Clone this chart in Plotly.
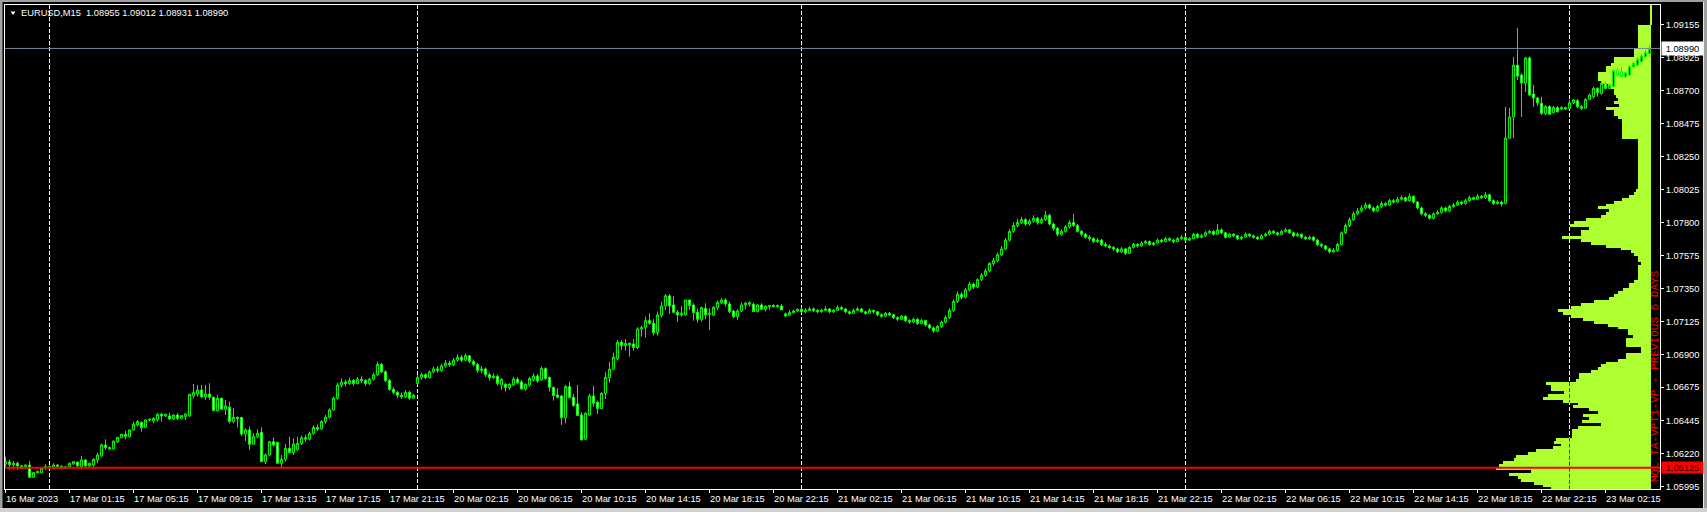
import plotly.graph_objects as go

# ---------------- data (prices in points, 1 point = 0.00001) ----------------
open_pts = [
106150,106164,106146,106155,106137,106121,106143,106059,106091,106091,
106121,106132,106127,106143,106135,106121,106132,106150,106162,106132,
106178,106137,106143,106178,106205,106280,106262,106253,106301,106330,
106353,106337,106383,106417,106435,106401,106451,106444,106451,106490,
106478,106478,106458,106485,106462,106474,106478,106615,106629,106656,
106610,106629,106606,106515,106599,106524,106538,106440,106469,106469,
106355,106383,106285,106337,106367,106166,106212,106303,106298,106155,
106182,106257,106228,106250,106291,106330,106320,106360,106400,106390,
106440,106470,106520,106600,106690,106710,106700,106720,106700,106730,
106720,106700,106730,106760,106830,106780,106720,106660,106640,106620,
106610,106640,106600,106700,106740,106760,106740,106780,106800,106790,
106820,106840,106830,106860,106880,106860,106890,106850,106830,106790,
106800,106760,106740,106750,106690,106695,106672,106690,106729,106711,
106663,106690,106725,106752,106725,106802,106741,106674,106622,106615,
106467,106679,106606,106561,106485,106319,106485,106615,106572,106529,
106633,106741,106798,106870,106982,106959,106975,106971,106946,107073,
107085,107130,107112,107048,107166,107230,107299,107237,107187,107169,
107169,107271,107237,107187,107139,107214,107173,107169,107219,107253,
107271,107244,107196,107157,107196,107237,107242,107242,107192,107237,
107208,107226,107233,107226,107230,107176,107166,107185,107196,107208,
107190,107200,107210,107200,107190,107200,107210,107190,107200,107220,
107210,107190,107180,107200,107210,107190,107180,107200,107190,107170,
107160,107180,107170,107150,107140,107160,107130,107120,107140,107110,
107130,107100,107080,107060,107090,107120,107150,107200,107260,107310,
107290,107340,107380,107360,107410,107440,107470,107520,107540,107580,
107620,107680,107740,107780,107800,107820,107790,107810,107830,107800,
107820,107850,107790,107760,107720,107740,107770,107800,107780,107740,
107720,107700,107690,107670,107680,107650,107640,107630,107620,107600,
107620,107590,107630,107650,107640,107660,107670,107650,107660,107680,
107670,107690,107680,107670,107690,107700,107680,107690,107720,107700,
107710,107730,107740,107720,107750,107730,107700,107720,107710,107690,
107700,107720,107710,107700,107690,107710,107720,107740,107730,107720,
107740,107750,107730,107710,107720,107700,107690,107700,107680,107650,
107640,107620,107600,107610,107650,107730,107780,107820,107860,107880,
107900,107920,107900,107880,107910,107930,107920,107950,107940,107960,
107970,107950,107980,107940,107900,107860,107850,107830,107860,107870,
107900,107880,107910,107920,107940,107930,107950,107970,107960,107980,
107970,107990,107950,107930,107940,107931,108377,108521,108876,108808,
108754,108925,108679,108651,108615,108546,108592,108551,108585,108576,
108585,108581,108619,108633,108592,108581,108642,108660,108717,108683,
108751,108717,108729,108838,108831,108797,108808,108865,108877,108900,
108934,108955]

high_pts = [
106200,106178,106171,106166,106143,106148,106171,106095,106105,106125,
106148,106140,106155,106150,106140,106138,106160,106171,106168,106205,
106182,106160,106189,106228,106291,106319,106270,106310,106335,106356,
106376,106385,106440,106451,106440,106455,106460,106469,106497,106501,
106495,106501,106490,106497,106485,106497,106630,106697,106690,106690,
106690,106702,106610,106622,106605,106588,106576,106531,106474,106469,
106394,106405,106360,106387,106401,106223,106305,106332,106300,106212,
106287,106337,106326,106337,106345,106350,106372,106415,106420,106450,
106485,106530,106610,106705,106735,106725,106740,106730,106745,106750,
106730,106740,106775,106850,106840,106790,106730,106675,106650,106640,
106655,106650,106630,106760,106775,106770,106790,106815,106820,106835,
106860,106855,106875,106900,106895,106905,106895,106865,106840,106820,
106810,106775,106770,106760,106736,106702,106702,106747,106743,106725,
106702,106747,106770,106766,106816,106811,106747,106679,106668,106622,
106690,106713,106629,106690,106504,106504,106629,106684,106583,106640,
106777,106850,106911,106998,106998,107003,106980,107003,107085,107094,
107157,107180,107139,107192,107260,107312,107312,107299,107203,107230,
107271,107271,107249,107214,107226,107249,107214,107230,107267,107283,
107283,107260,107203,107208,107253,107258,107260,107253,107242,107249,
107230,107237,107242,107240,107242,107185,107203,107203,107212,107220,
107215,107225,107220,107210,107212,107230,107215,107210,107235,107228,
107215,107200,107210,107222,107215,107198,107212,107205,107195,107180,
107190,107188,107175,107160,107170,107165,107140,107150,107145,107142,
107135,107110,107090,107100,107130,107165,107215,107275,107330,107325,
107355,107395,107390,107420,107455,107485,107530,107560,107595,107640,
107695,107755,107800,107825,107840,107830,107825,107850,107840,107835,
107880,107860,107800,107770,107755,107785,107815,107860,107790,107750,
107730,107715,107700,107695,107688,107665,107650,107640,107630,107632,
107625,107640,107662,107660,107672,107682,107678,107670,107692,107688,
107700,107698,107690,107702,107715,107708,107700,107730,107728,107722,
107742,107752,107748,107790,107760,107738,107730,107728,107715,107712,
107732,107728,107718,107708,107720,107732,107752,107750,107738,107752,
107762,107758,107738,107732,107726,107710,107712,107708,107688,107660,
107648,107630,107625,107660,107740,107795,107835,107875,107900,107918,
107938,107930,107910,107922,107945,107940,107962,107960,107975,107985,
107978,108000,107985,107948,107910,107872,107858,107870,107885,107912,
107908,107922,107935,107952,107948,107962,107985,107978,107995,107988,
108010,107998,107958,107952,107950,108590,108583,108931,109130,108822,
108931,108935,108740,108658,108660,108603,108603,108597,108597,108597,
108592,108638,108644,108644,108603,108649,108683,108729,108724,108763,
108763,108751,108847,108854,108865,108831,108877,108900,108929,108950,
108979,109012]

low_pts = [
106132,106110,106114,106110,106114,106114,106055,106055,106085,106087,
106110,106118,106114,106128,106115,106116,106128,106146,106133,106114,
106130,106128,106121,106155,106200,106246,106248,106248,106296,106325,
106319,106332,106378,106405,106371,106395,106440,106428,106440,106440,
106472,106451,106452,106451,106455,106451,106474,106599,106610,106599,
106588,106588,106510,106508,106520,106485,106428,106428,106401,106342,
106307,106246,106280,106326,106166,106150,106205,106269,106155,106121,
106166,106223,106212,106241,106280,106300,106310,106350,106375,106385,
106425,106460,106515,106590,106675,106680,106690,106685,106695,106705,
106685,106690,106720,106750,106770,106710,106650,106625,106600,106595,
106600,106590,106595,106690,106725,106730,106735,106770,106775,106780,
106810,106815,106820,106850,106845,106850,106840,106815,106775,106770,
106745,106720,106730,106685,106656,106645,106656,106684,106697,106656,
106650,106679,106713,106706,106720,106725,106645,106583,106599,106417,
106428,106599,106542,106481,106310,106315,106481,106542,106492,106525,
106595,106706,106793,106861,106930,106925,106884,106925,106936,107021,
107014,107100,107028,107028,107151,107203,107176,107180,107123,107157,
107165,107203,107130,107116,107123,107139,107066,107162,107203,107242,
107226,107180,107148,107134,107189,107208,107226,107189,107185,107203,
107192,107203,107219,107219,107203,107151,107160,107180,107192,107180,
107180,107195,107190,107180,107185,107195,107180,107182,107195,107200,
107180,107170,107175,107195,107182,107170,107175,107178,107160,107150,
107152,107160,107140,107128,107135,107120,107108,107112,107100,107105,
107090,107070,107045,107050,107080,107110,107140,107190,107250,107275,
107280,107330,107345,107350,107400,107430,107460,107505,107530,107570,
107610,107670,107730,107770,107790,107775,107780,107800,107785,107790,
107810,107780,107745,107705,107710,107730,107760,107770,107730,107705,
107690,107675,107660,107660,107640,107630,107620,107605,107590,107592,
107580,107585,107622,107630,107635,107652,107642,107640,107655,107660,
107665,107670,107660,107665,107682,107670,107672,107685,107690,107692,
107702,107722,107712,107715,107720,107690,107695,107700,107680,107682,
107695,107700,107690,107680,107685,107702,107712,107720,107710,107715,
107732,107722,107700,107702,107690,107680,107682,107670,107640,107628,
107608,107590,107592,107602,107645,107720,107770,107810,107850,107870,
107890,107890,107870,107872,107900,107908,107912,107930,107932,107950,
107940,107942,107930,107890,107850,107838,107820,107822,107852,107862,
107870,107872,107902,107912,107920,107922,107942,107950,107952,107960,
107962,107940,107920,107922,107910,107925,108370,108377,108774,108521,
108692,108665,108590,108596,108535,108535,108535,108546,108551,108569,
108569,108574,108610,108581,108569,108576,108638,108649,108660,108672,
108711,108711,108724,108797,108793,108786,108802,108854,108870,108893,
108929,108931]

close_pts = [
106166,106146,106155,106137,106121,106143,106059,106091,106098,106121,
106132,106125,106143,106135,106121,106130,106155,106166,106137,106178,
106137,106155,106182,106212,106280,106262,106255,106307,106332,106353,
106340,106383,106421,106440,106399,106451,106456,106462,106490,106478,
106490,106458,106485,106462,106481,106492,106626,106638,106656,106610,
106629,106606,106515,106599,106524,106547,106440,106469,106462,106355,
106383,106285,106337,106360,106166,106212,106303,106280,106155,106182,
106257,106228,106287,106291,106330,106320,106360,106400,106390,106440,
106470,106520,106600,106690,106710,106700,106720,106700,106730,106720,
106700,106730,106760,106830,106780,106720,106660,106640,106620,106610,
106640,106600,106620,106740,106760,106740,106780,106800,106790,106820,
106840,106830,106860,106880,106860,106890,106850,106830,106790,106800,
106760,106740,106750,106700,106729,106672,106695,106731,106706,106663,
106695,106734,106752,106718,106802,106734,106674,106618,106606,106467,
106679,106604,106549,106481,106315,106497,106615,106565,106529,106633,
106743,106798,106880,106982,106959,106975,106966,106946,107073,107082,
107130,107112,107048,107169,107230,107299,107230,107187,107169,107180,
107271,107233,107185,107139,107219,107169,107180,107221,107255,107271,
107244,107192,107157,107196,107237,107249,107253,107192,107237,107208,
107230,107233,107226,107233,107203,107162,107185,107196,107208,107190,
107200,107210,107200,107190,107200,107210,107190,107200,107220,107210,
107190,107180,107200,107210,107190,107180,107200,107190,107170,107160,
107180,107170,107150,107140,107160,107130,107120,107140,107110,107130,
107100,107080,107060,107090,107120,107150,107200,107260,107310,107290,
107340,107380,107360,107410,107440,107470,107520,107540,107580,107620,
107680,107740,107780,107800,107820,107790,107810,107830,107800,107820,
107850,107790,107760,107720,107740,107770,107800,107780,107740,107720,
107700,107690,107670,107680,107650,107640,107630,107620,107600,107620,
107590,107630,107650,107640,107660,107670,107650,107660,107680,107670,
107690,107680,107670,107690,107700,107680,107690,107720,107700,107710,
107730,107740,107720,107750,107730,107700,107720,107710,107690,107700,
107720,107710,107700,107690,107710,107720,107740,107730,107720,107740,
107750,107730,107710,107720,107700,107690,107700,107680,107650,107640,
107620,107600,107610,107650,107730,107780,107820,107860,107880,107900,
107920,107900,107880,107910,107930,107920,107950,107940,107960,107970,
107950,107980,107940,107900,107860,107850,107830,107860,107870,107900,
107880,107910,107920,107940,107930,107950,107970,107960,107980,107970,
107990,107950,107930,107940,107927,108377,108521,108876,108801,108754,
108925,108672,108651,108617,108546,108592,108540,108588,108558,108585,
108576,108619,108638,108592,108581,108642,108672,108717,108688,108751,
108717,108740,108838,108808,108797,108824,108865,108888,108916,108938,
108961,108990]

# time axis (bar index of each label) and labels
tick_bars = [0, 16, 32, 48, 64, 80, 96, 112, 128, 144, 160, 176, 192,
             208, 224, 240, 256, 272, 288, 304, 320, 336, 352, 368, 384, 400]
tick_labels = ["16 Mar 2023", "17 Mar 01:15", "17 Mar 05:15", "17 Mar 09:15",
               "17 Mar 13:15", "17 Mar 17:15", "17 Mar 21:15", "20 Mar 02:15",
               "20 Mar 06:15", "20 Mar 10:15", "20 Mar 14:15", "20 Mar 18:15",
               "20 Mar 22:15", "21 Mar 02:15", "21 Mar 06:15", "21 Mar 10:15",
               "21 Mar 14:15", "21 Mar 18:15", "21 Mar 22:15", "22 Mar 02:15",
               "22 Mar 06:15", "22 Mar 10:15", "22 Mar 14:15", "22 Mar 18:15",
               "22 Mar 22:15", "23 Mar 02:15"]
day_start_bars = [11, 103, 199, 295, 391]

price_ticks = [1.09155, 1.08925, 1.08700, 1.08475, 1.08250, 1.08025, 1.07800,
               1.07575, 1.07350, 1.07125, 1.06900, 1.06675, 1.06445, 1.06220, 1.05995]
price_tick_labels = ["1.09155", "1.08925", "1.08700", "1.08475", "1.08250", "1.08025",
                     "1.07800", "1.07575", "1.07350", "1.07125", "1.06900", "1.06675",
                     "1.06445", "1.06220", "1.05995"]

# volume profile: bins of 0.0002 from 1.0928 downward
vp_top = 1.0928
vp_step = 0.0002
vp_volume = [
1, 1, 1, 1, 1, 1, 1, 13, 13, 13, 13, 13, 13, 13, 13, 17, 17, 17,
37, 37, 40, 45, 45, 53, 53, 53, 50, 43, 40, 37, 37, 35, 33, 37, 32, 45, 37, 37, 33,
29, 29, 29, 29, 29, 29, 29,
13, 13, 13, 13, 13, 13, 13, 13, 13, 13, 13, 13, 13, 13, 13, 13, 13,
15, 17, 22, 29, 37, 45, 53, 42, 45, 50, 65, 77, 81, 62, 70, 70, 89, 70, 60, 45, 30,
20, 17, 13, 13, 10, 13, 13, 13, 13, 13, 17, 22, 22, 28, 33, 37, 42, 57, 70, 80, 93,
88, 80, 68, 57, 43, 33, 23, 23, 18, 25, 25, 25, 10, 10, 25, 25, 33, 45, 50, 53, 60,
72, 72, 75, 105, 100, 100, 87, 103, 108, 88, 73, 78, 62, 53, 68, 62, 69, 50, 73, 79,
79, 79, 95, 97, 90, 98, 115, 123, 135, 137, 148, 152, 155, 120, 142, 133, 130, 117,
108, 100]

poc_price = 1.06125
bid_price = 1.08990
title_text = "EURUSD,M15  1.08955 1.09012 1.08931 1.08990"
indicator_text = "MQL TA-VPT1-VP - PREVIOUS 5 DAYS"

# ---------------- styling / layout constants ----------------
W, H = 1707, 512
PL, PR, PT, PB = 5, 1660, 5, 489          # plot area in pixels
BAR_PX = 4.0                               # pixels per candle
X0 = -0.125                                # half-pixel offset for crisp lines
X1 = X0 + (PR - PL) / BAR_PX
Y_TOP, Y_BOT = 1.092869, 1.059793
VP_RIGHT = 411.4                           # right edge of the profile (bar units)
VP_SCALE = 0.25                            # bar units per volume unit
FONT = "Liberation Sans"
FS = 9.3


def px_x(px):
    return (px - PL) / (PR - PL)


def px_y(py):
    return (PB - py) / (PB - PT)


n = len(close_pts)
xs = list(range(n))
o = [v / 1e5 for v in open_pts]
h = [v / 1e5 for v in high_pts]
l = [v / 1e5 for v in low_pts]
c = [v / 1e5 for v in close_pts]

vp_prices = [round(vp_top - vp_step * j, 5) for j in range(len(vp_volume))]

fig = go.Figure()

fig.add_trace(go.Bar(
    y=vp_prices, x=[-v * VP_SCALE for v in vp_volume], base=VP_RIGHT,
    orientation="h", width=vp_step * 1.03,
    marker=dict(color="#adff2f", line=dict(width=0)),
    hoverinfo="skip", showlegend=False))

fig.add_trace(go.Candlestick(
    x=xs, open=o, high=h, low=l, close=c,
    increasing=dict(line=dict(color="#00ff00", width=1), fillcolor="#000000"),
    decreasing=dict(line=dict(color="#00ff00", width=1), fillcolor="#ffffff"),
    whiskerwidth=0, showlegend=False, hoverinfo="skip"))

shapes = []
for b in day_start_bars:
    shapes.append(dict(type="line", xref="x", yref="paper", x0=b, x1=b, y0=0, y1=1,
                       line=dict(color="#ffffff", width=1, dash="4px,2px"), layer="below"))
# where the last separator crosses the filled profile it shows as dark dashes
last_sep = day_start_bars[-1]
for j0, j1 in [(129, 135), (148, len(vp_volume) - 1)]:
    shapes.append(dict(type="line", xref="x", yref="y", x0=last_sep, x1=last_sep,
                       y0=vp_prices[j0] + vp_step / 2, y1=vp_prices[j1] - vp_step / 2,
                       line=dict(color="#4a3a8a", width=1, dash="4px,2px"), layer="above"))
shapes.append(dict(type="line", xref="paper", yref="y", x0=0, x1=1, y0=bid_price, y1=bid_price,
                   line=dict(color="#778899", width=1), layer="above"))
shapes.append(dict(type="line", xref="paper", yref="y", x0=0, x1=1, y0=poc_price, y1=poc_price,
                   line=dict(color="#ff0000", width=2), layer="above"))
# window frame strips
shapes.append(dict(type="rect", xref="paper", yref="paper", x0=px_x(0), x1=px_x(2.5),
                   y0=px_y(H), y1=px_y(0), fillcolor="#a0a0a0", line=dict(width=0)))
shapes.append(dict(type="rect", xref="paper", yref="paper", x0=px_x(0), x1=px_x(W),
                   y0=px_y(2), y1=px_y(0), fillcolor="#a0a0a0", line=dict(width=0)))
shapes.append(dict(type="rect", xref="paper", yref="paper", x0=px_x(1703), x1=px_x(1704),
                   y0=px_y(508), y1=px_y(2), fillcolor="#e8e8e8", line=dict(width=0)))
shapes.append(dict(type="rect", xref="paper", yref="paper", x0=px_x(1704), x1=px_x(W),
                   y0=px_y(H), y1=px_y(0), fillcolor="#a0a0a0", line=dict(width=0)))
shapes.append(dict(type="rect", xref="paper", yref="paper", x0=px_x(0), x1=px_x(W),
                   y0=px_y(H), y1=px_y(508), fillcolor="#d0d0d0", line=dict(width=0)))
# small dropdown triangle before the title
shapes.append(dict(type="path", xref="paper", yref="paper",
                   path="M %f,%f L %f,%f L %f,%f Z" % (px_x(10.5), px_y(11.5), px_x(15.5), px_y(11.5),
                                                       px_x(13), px_y(15)),
                   fillcolor="#ffffff", line=dict(width=0)))

annotations = []
for b, t in zip(tick_bars, tick_labels):
    annotations.append(dict(x=b, y=px_y(499), xref="x", yref="paper", text=t, showarrow=False,
                            xanchor="left", yanchor="middle", xshift=-2,
                            font=dict(family=FONT, size=FS, color="#ffffff")))
annotations.append(dict(x=px_x(19), y=px_y(13), xref="paper", yref="paper", text=title_text,
                        showarrow=False, xanchor="left", yanchor="middle",
                        font=dict(family=FONT, size=FS, color="#ffffff")))
annotations.append(dict(x=px_x(1655), y=px_y(376), xref="paper", yref="paper", text=indicator_text,
                        showarrow=False, textangle=-90, xanchor="center", yanchor="middle",
                        font=dict(family="Liberation Mono", size=11, color="#ff0000")))
annotations.append(dict(x=px_x(1661), y=bid_price, xref="paper", yref="y", text="1.08990",
                        showarrow=False, xanchor="left", yanchor="middle", bgcolor="#ffffff",
                        width=39, height=11, borderpad=1,
                        font=dict(family=FONT, size=FS, color="#000000")))
annotations.append(dict(x=px_x(1661), y=poc_price, xref="paper", yref="y", text="1.06125",
                        showarrow=False, xanchor="left", yanchor="middle", bgcolor="#ff0000",
                        width=39, height=9, borderpad=1,
                        font=dict(family=FONT, size=FS, color="#200000")))

fig.update_layout(
    width=W, height=H, autosize=False,
    margin=dict(l=PL, r=W - PR, t=PT, b=H - PB, pad=0),
    paper_bgcolor="#000000", plot_bgcolor="#000000",
    showlegend=False, bargap=0, boxgap=0.25,
    shapes=shapes, annotations=annotations,
    hovermode=False,
    xaxis=dict(range=[X0, X1], showgrid=False, zeroline=False, showline=True, mirror=True,
               linecolor="#ffffff", linewidth=1, ticks="outside", ticklen=3, tickcolor="#ffffff",
               tickvals=tick_bars, showticklabels=False, rangeslider=dict(visible=False),
               fixedrange=True),
    yaxis=dict(range=[Y_BOT, Y_TOP], side="right", showgrid=False, zeroline=False, showline=True,
               mirror=True, linecolor="#ffffff", linewidth=1, ticks="outside", ticklen=3,
               tickcolor="#ffffff", tickvals=price_ticks, ticktext=price_tick_labels,
               tickfont=dict(family=FONT, size=FS, color="#ffffff"), fixedrange=True),
)

fig.write_html("out.html", config={"displayModeBar": False},
               post_script="document.body.style.margin='0';document.body.style.overflow='hidden';")
